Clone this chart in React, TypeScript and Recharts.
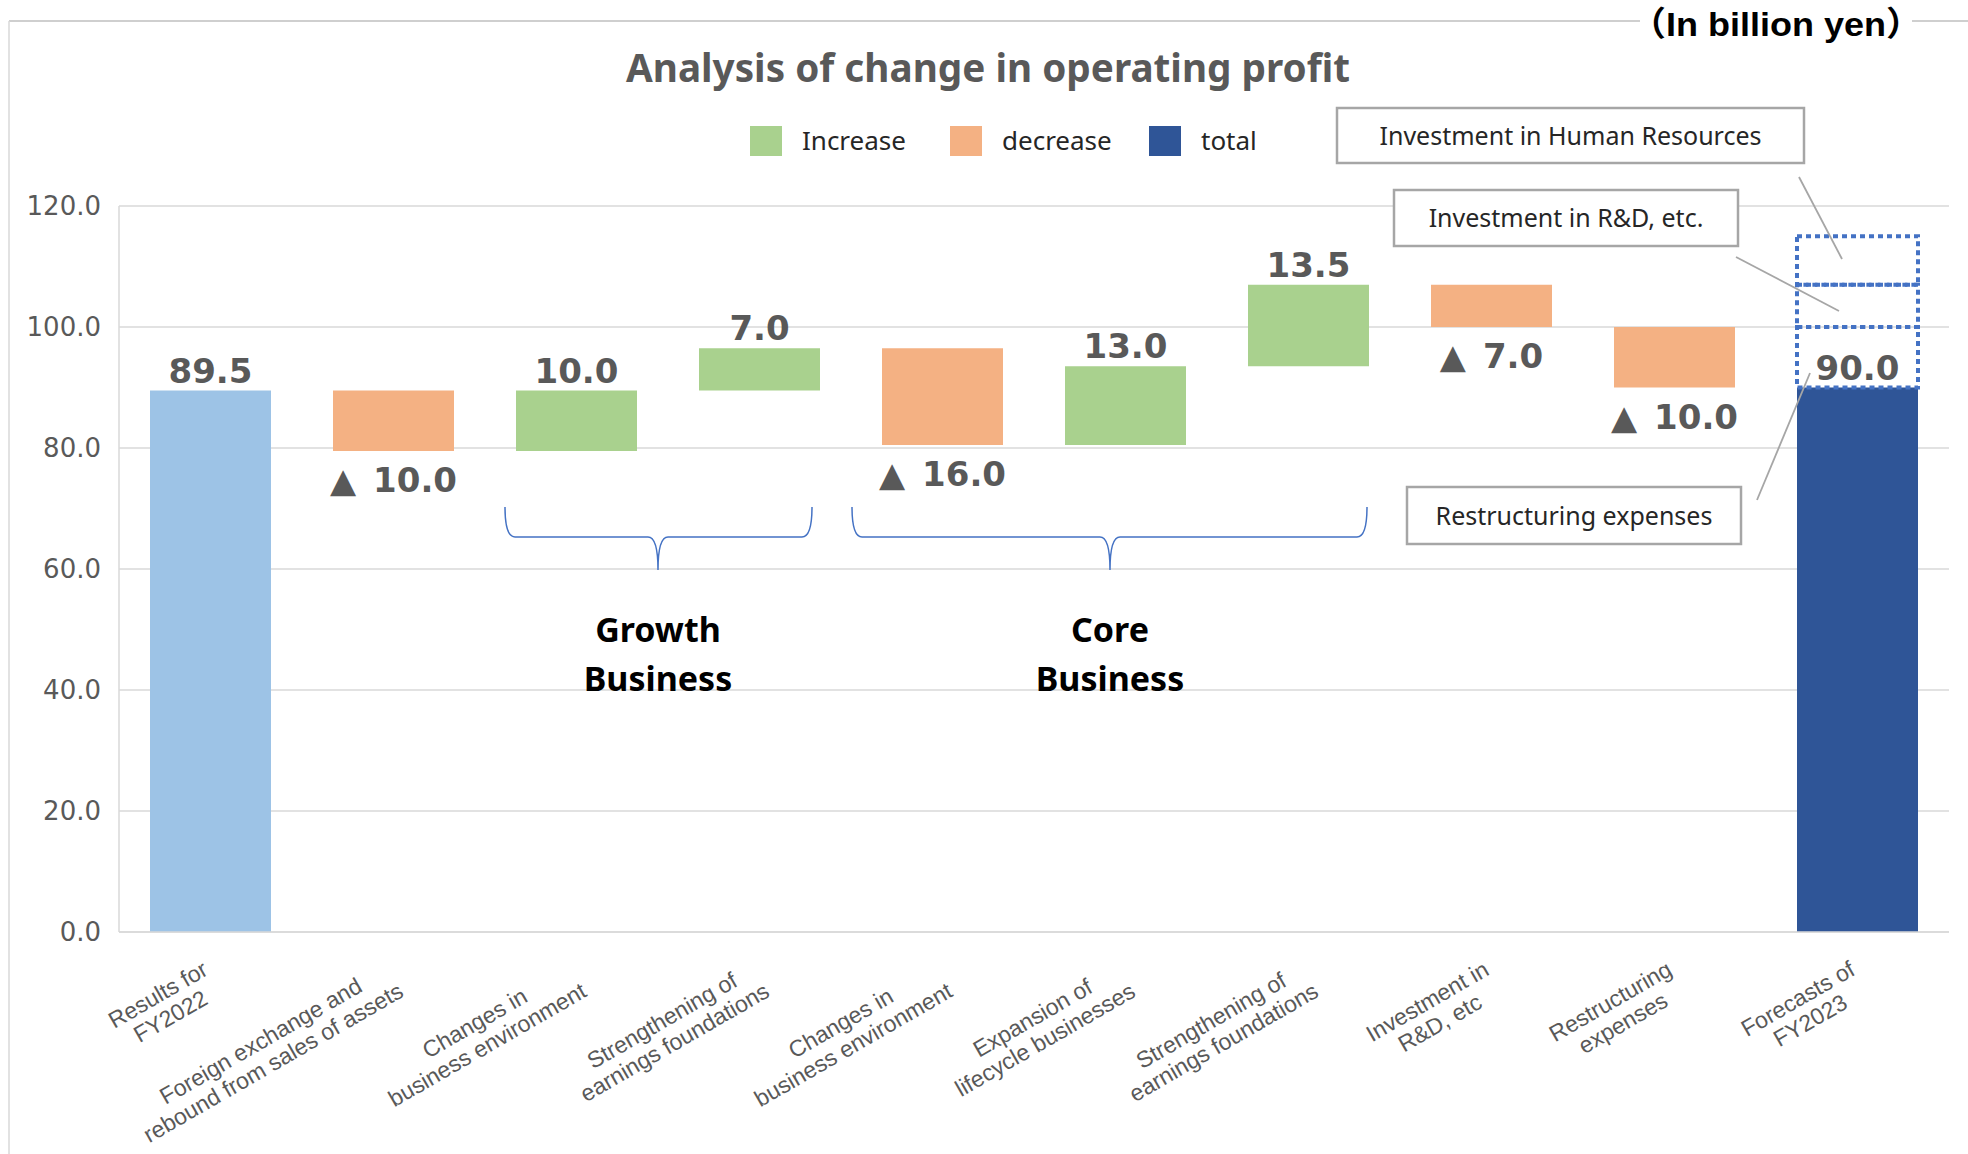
import React from 'react';
import { BarChart, Bar, XAxis, YAxis, CartesianGrid, Cell, LabelList } from 'recharts';

const CATEGORIES = [
  'Results for\nFY2022',
  'Foreign exchange and\nrebound from sales of assets',
  'Changes in\nbusiness environment',
  'Strengthening of\nearnings foundations',
  'Changes in\nbusiness environment',
  'Expansion of\nlifecycle businesses',
  'Strengthening of\nearnings foundations',
  'Investment in\nR&D, etc',
  'Restructuring\nexpenses',
  'Forecasts of\nFY2023',
];
const TOTALS = [89.5, null, null, null, null, null, null, null, null, 90.0];
const CHANGES = [null, -10.0, 10.0, 7.0, -16.0, 13.0, 13.5, -7.0, -10.0, null];
// planned items drawn as dotted boxes on top of the FY2023 forecast (bottom to top)
const PLANNED_ITEMS = ['Restructuring expenses', 'Investment in R&D, etc.', 'Investment in Human Resources'];
const PLANNED_VALUES = [10.0, 7.0, 8.0];
const Y_TICKS = [0, 20, 40, 60, 80, 100, 120];

const W = 1968;
const H = 1154;
const GREEN = '#A9D18E';
const ORANGE = '#F4B183';
const LIGHT_BLUE = '#9DC3E6';
const DARK_BLUE = '#2F5597';
const GRAY_TEXT = '#595959';
const LAST = CATEGORIES.length - 1;

type Row = Record<string, number | string>;

let running = 0;
const rows: Row[] = CATEGORIES.map((_, i) => {
  const row: Row = { idx: i, base: 0, total: 0, inc: 0, dec: 0, totalText: '', incText: '', decText: '' };
  const t = TOTALS[i];
  const c = CHANGES[i];
  if (t != null) {
    running = t;
    row.total = t;
    row.totalText = t.toFixed(1);
  } else if (c != null) {
    const next = running + c;
    row.base = Math.min(running, next);
    if (c > 0) {
      row.inc = c;
      row.incText = c.toFixed(1);
    } else {
      row.dec = -c;
      row.decText = '▲\u2002' + (-c).toFixed(1);
    }
    running = next;
  }
  PLANNED_VALUES.forEach((v, k) => {
    row['plan' + k] = i === LAST ? v : 0;
  });
  return row;
});

const valueFont = { fontFamily: '"DejaVu Sans", Verdana, sans-serif', fontWeight: 700, fontSize: 34, fill: GRAY_TEXT };

const box = (p: any) => {
  const vb = p.viewBox || p;
  const x = Number(vb.x), y = Number(vb.y), w = Number(vb.width), h = Number(vb.height);
  return { cx: x + w / 2, top: Math.min(y, y + h), bottom: Math.max(y, y + h) };
};

const AboveLabel = (p: any) => {
  if (!p.value) return null;
  const b = box(p);
  return (
    <text x={b.cx} y={b.top - 8} textAnchor="middle" style={valueFont}>
      {p.value}
    </text>
  );
};

const BelowLabel = (p: any) => {
  if (!p.value) return null;
  const b = box(p);
  return (
    <text x={b.cx} y={b.bottom + 41} textAnchor="middle" style={valueFont}>
      {p.value}
    </text>
  );
};

let ctx: CanvasRenderingContext2D | null = null;
function textWidth(s: string, font: string) {
  if (!ctx && typeof document !== 'undefined') ctx = document.createElement('canvas').getContext('2d');
  if (!ctx) return s.length * 11;
  ctx.font = font;
  return ctx.measureText(s).width;
}

const TICK_FONT = '23px "Liberation Sans"';

const CategoryTick = (props: any) => {
  const { x, y, payload } = props;
  const lines = CATEGORIES[Number(payload.value)].split('\n');
  const wMax = Math.max(...lines.map((l) => textWidth(l, TICK_FONT)));
  return (
    <g transform={`translate(${x - 1},${y + 40}) rotate(-30)`}>
      {lines.map((l, i) => (
        <text
          key={i}
          x={-wMax / 2}
          y={i * 25}
          textAnchor="middle"
          style={{ fontFamily: '"Liberation Sans", Arial, sans-serif', fontSize: 23, fill: GRAY_TEXT }}
        >
          {l}
        </text>
      ))}
    </g>
  );
};

function Brace({ x0, x1, cx }: { x0: number; x1: number; cx: number }) {
  const top = 507, mid = 537, tip = 570;
  const d = `M${x0} ${top} Q${x0} ${mid} ${x0 + 10} ${mid} L${cx - 10} ${mid} Q${cx} ${mid} ${cx} ${tip} Q${cx} ${mid} ${cx + 10} ${mid} L${x1 - 10} ${mid} Q${x1} ${mid} ${x1} ${top}`;
  return <path d={d} fill="none" stroke="#4472C4" strokeWidth={1.5} />;
}

const noteFont = { fontFamily: '"Noto Sans", sans-serif', fontSize: 25, fill: '#262626' };

function Note({ x, y, w, h, text }: { x: number; y: number; w: number; h: number; text: string }) {
  return (
    <g>
      <rect x={x} y={y} width={w} height={h} fill="#fff" stroke="#A6A6A6" strokeWidth={2.5} />
      <text x={x + w / 2} y={y + h / 2 + 9} textAnchor="middle" style={noteFont}>
        {text}
      </text>
    </g>
  );
}

const legendItems = [
  { label: 'Increase', color: GREEN, x: 750 },
  { label: 'decrease', color: ORANGE, x: 950 },
  { label: 'total', color: DARK_BLUE, x: 1149 },
];

export default function App() {
  return (
    <div style={{ position: 'absolute', left: 0, top: 0, width: W, height: H, background: '#fff' }}>
      <BarChart width={W} height={H} data={rows} margin={{ top: 206, right: 19, bottom: 0, left: 0 }} barSize={121}>
        <CartesianGrid vertical={false} stroke="#D9D9D9" strokeWidth={1.5} />
        <XAxis
          dataKey="idx"
          type="category"
          height={222}
          interval={0}
          tickLine={false}
          tickSize={0}
          axisLine={{ stroke: '#D9D9D9', strokeWidth: 1.5 }}
          tick={<CategoryTick />}
        />
        <YAxis
          width={119}
          domain={[0, 120]}
          ticks={Y_TICKS}
          interval={0}
          tickLine={false}
          tickSize={0}
          tickMargin={18}
          axisLine={{ stroke: '#D9D9D9', strokeWidth: 1.5 }}
          tickFormatter={(v: number) => v.toFixed(1)}
          tick={{ fontFamily: '"DejaVu Sans", Verdana, sans-serif', fontSize: 26, fill: GRAY_TEXT }}
        />
        <Bar dataKey="base" stackId="w" fill="transparent" isAnimationActive={false} />
        <Bar dataKey="total" stackId="w" isAnimationActive={false}>
          {rows.map((r, i) => (
            <Cell key={i} fill={i === LAST ? DARK_BLUE : LIGHT_BLUE} />
          ))}
          <LabelList dataKey="totalText" content={AboveLabel} />
        </Bar>
        <Bar dataKey="inc" stackId="w" fill={GREEN} isAnimationActive={false}>
          <LabelList dataKey="incText" content={AboveLabel} />
        </Bar>
        <Bar dataKey="dec" stackId="w" fill={ORANGE} isAnimationActive={false}>
          <LabelList dataKey="decText" content={BelowLabel} />
        </Bar>
        {PLANNED_VALUES.map((_, k) => (
          <Bar
            key={k}
            name={PLANNED_ITEMS[k]}
            dataKey={'plan' + k}
            stackId="w"
            fill="none"
            stroke="#4472C4"
            strokeWidth={4}
            strokeDasharray="5 4"
            isAnimationActive={false}
          />
        ))}
      </BarChart>

      <svg width={W} height={H} style={{ position: 'absolute', left: 0, top: 0, pointerEvents: 'none' }}>
        <line x1={9} y1={21} x2={W} y2={21} stroke="#BFBFBF" strokeWidth={1.5} />
        <line x1={9} y1={21} x2={9} y2={H} stroke="#D9D9D9" strokeWidth={1.5} />

        <rect x={1640} y={2} width={272} height={42} fill="#fff" />
        <text
          x={1630}
          y={36}
          textLength={292}
          lengthAdjust="spacingAndGlyphs"
          style={{ fontFamily: '"Liberation Sans", "Noto Sans CJK JP", sans-serif', fontWeight: 700, fontSize: 34, fill: '#000' }}
        >
          （In billion yen）
        </text>

        <text
          x={626}
          y={82}
          textLength={724}
          lengthAdjust="spacingAndGlyphs"
          style={{ fontFamily: '"Noto Sans", sans-serif', fontWeight: 700, fontSize: 40, fill: GRAY_TEXT }}
        >
          Analysis of change in operating profit
        </text>

        {legendItems.map((it) => (
          <g key={it.label}>
            <rect x={it.x} y={126} width={32} height={30} fill={it.color} />
            <text x={it.x + 52} y={150} style={{ fontFamily: '"Noto Sans", sans-serif', fontSize: 26, fill: '#262626' }}>
              {it.label}
            </text>
          </g>
        ))}

        <line x1={1799} y1={177} x2={1842} y2={259} stroke="#A6A6A6" strokeWidth={1.8} />
        <line x1={1736} y1={257} x2={1839} y2={311} stroke="#A6A6A6" strokeWidth={1.8} />
        <line x1={1757} y1={500} x2={1810} y2={373} stroke="#A6A6A6" strokeWidth={1.8} />
        <Note x={1337} y={108} w={467} h={55} text={PLANNED_ITEMS[2]} />
        <Note x={1394} y={190} w={344} h={56} text={PLANNED_ITEMS[1]} />
        <Note x={1407} y={487} w={334} h={57} text={PLANNED_ITEMS[0]} />

        <Brace x0={505} x1={812} cx={658} />
        <Brace x0={852} x1={1367} cx={1110} />
        {[
          { cx: 658, l1: 'Growth' },
          { cx: 1110, l1: 'Core' },
        ].map((g) => (
          <g key={g.l1} style={{ fontFamily: '"Noto Sans", sans-serif', fontWeight: 700, fontSize: 34, fill: '#000' }}>
            <text x={g.cx} y={642} textAnchor="middle">{g.l1}</text>
            <text x={g.cx} y={691} textAnchor="middle">Business</text>
          </g>
        ))}
      </svg>
    </div>
  );
}
